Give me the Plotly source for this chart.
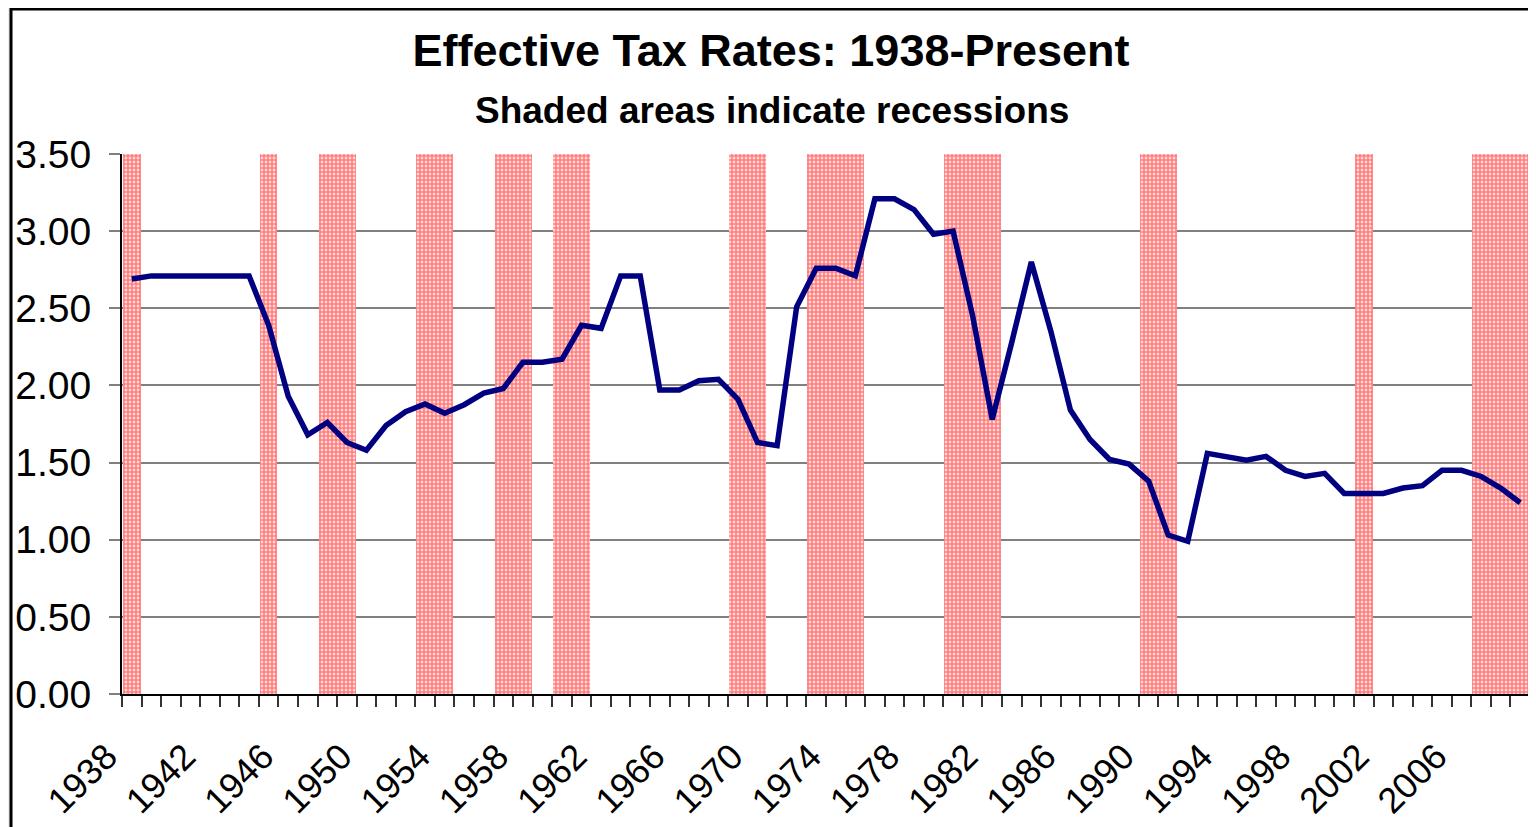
import plotly.graph_objects as go

# ---- data ----
years = list(range(1938, 2010))
rates = [2.69, 2.71, 2.71, 2.71, 2.71, 2.71, 2.71,           # 1938-1944
         2.39, 1.93, 1.68, 1.76, 1.63, 1.58,                 # 1945-1950
         1.74, 1.83, 1.88, 1.82, 1.875, 1.95, 1.98, 2.15, 2.15,  # 1951-1959
         2.17, 2.39, 2.37, 2.71, 2.71, 1.97, 1.97, 2.03, 2.04, 1.91,  # 1960-1969
         1.63, 1.61, 2.51, 2.76, 2.76, 2.71, 3.21, 3.21, 3.14, 2.98,  # 1970-1979
         3.00, 2.45, 1.78, 2.28, 2.80, 2.35, 1.84, 1.65, 1.52, 1.49,  # 1980-1989
         1.38, 1.03, 0.99, 1.56, 1.54, 1.515, 1.54, 1.45, 1.41, 1.43, # 1990-1999
         1.30, 1.30, 1.30, 1.335, 1.35, 1.45, 1.45, 1.41, 1.335, 1.24]  # 2000-2009

recession_start = [1938, 1945, 1948, 1953, 1957, 1960, 1969, 1973, 1980, 1990, 2001, 2007]
recession_end   = [1938, 1945, 1949, 1954, 1958, 1961, 1970, 1975, 1982, 1991, 2001, 2009]
recession_height = 3.5

label_years = [1938, 1942, 1946, 1950, 1954, 1958, 1962, 1966, 1970,
               1974, 1978, 1982, 1986, 1990, 1994, 1998, 2002, 2006]
label_text = ["1938", "1942", "1946", "1950", "1954", "1958", "1962", "1966", "1970",
              "1974", "1978", "1982", "1986", "1990", "1994", "1998", "2002", "2006"]

y_ticks = [0.0, 0.5, 1.0, 1.5, 2.0, 2.5, 3.0, 3.5]

# ---- figure ----
FONT = "Arial, Liberation Sans, sans-serif"
OFF = 8                     # page body margin
W, H = 1536 - OFF, 827 - OFF
ML, MR, MT, MB = 122 - OFF, 6, 154 - OFF, 133
pw, ph = W - ML - MR, H - MT - MB

def px_x(X):                # page pixel -> paper fraction
    return (X - OFF - ML) / pw

def px_y(Y):
    return (H - MB - (Y - OFF)) / ph

rec_mid = [(s + e) / 2 for s, e in zip(recession_start, recession_end)]
rec_w = [(e - s + 1) - 0.1 for s, e in zip(recession_start, recession_end)]

fig = go.Figure()
fig.add_trace(go.Bar(
    x=rec_mid, y=[recession_height] * len(rec_mid), width=rec_w,
    marker=dict(color="white",
                pattern=dict(shape=".", fgcolor="#ff0000", bgcolor="white",
                             size=4, solidity=0.75),
                line=dict(width=0)),
    showlegend=False, hoverinfo="skip"))
fig.add_trace(go.Scatter(
    x=years, y=rates, mode="lines",
    line=dict(color="#000080", width=5.5),
    showlegend=False))

fig.update_layout(
    width=W, height=H,
    margin=dict(l=ML, r=MR, t=MT, b=MB, pad=0, autoexpand=False),
    paper_bgcolor="#ededed", plot_bgcolor="white",
    font=dict(family=FONT, color="black"),
    title=dict(text="<b>Effective Tax Rates: 1938-Present</b>",
               font=dict(size=45, family=FONT, color="black"),
               x=(771 - OFF) / W, xref="container", xanchor="center",
               y=1 - (50 - OFF) / H, yref="container", yanchor="middle"),
    annotations=[dict(text="<b>Shaded areas indicate recessions</b>",
                      font=dict(size=37, family=FONT, color="black"),
                      xref="paper", yref="paper",
                      x=px_x(772), y=px_y(110),
                      xanchor="center", yanchor="middle", showarrow=False)],
    shapes=[dict(type="rect", xref="paper", yref="paper",
                 x0=px_x(11), x1=px_x(1533), y0=px_y(860), y1=px_y(9),
                 line=dict(color="black", width=3), fillcolor="white",
                 layer="below")],
    bargap=0,
)

fig.update_xaxes(
    range=[1937.5, 2009.5], automargin=False,
    tickmode="array", tickvals=label_years, ticktext=label_text,
    tickangle=-45, ticks="", ticklabelstandoff=25, ticklabelshift=-25,
    tickfont=dict(size=36, family=FONT, color="black"),
    showline=True, linecolor="black", linewidth=2,
    showgrid=False, zeroline=False,
    minor=dict(ticks="outside", tick0=1937.5, dtick=1, ticklen=11,
               tickcolor="#333333", tickwidth=1.5, showgrid=False),
)
fig.update_yaxes(
    range=[0, 3.5], automargin=False,
    tickmode="array", tickvals=y_ticks, tickformat=".2f",
    ticks="outside", ticklen=11, tickcolor="#808080", tickwidth=2,
    ticklabelstandoff=10,
    tickfont=dict(size=39, family=FONT, color="black"),
    showline=True, linecolor="black", linewidth=2,
    showgrid=True, gridcolor="#808080", gridwidth=1.5,
    zeroline=False,
)

fig.write_html("out.html")
